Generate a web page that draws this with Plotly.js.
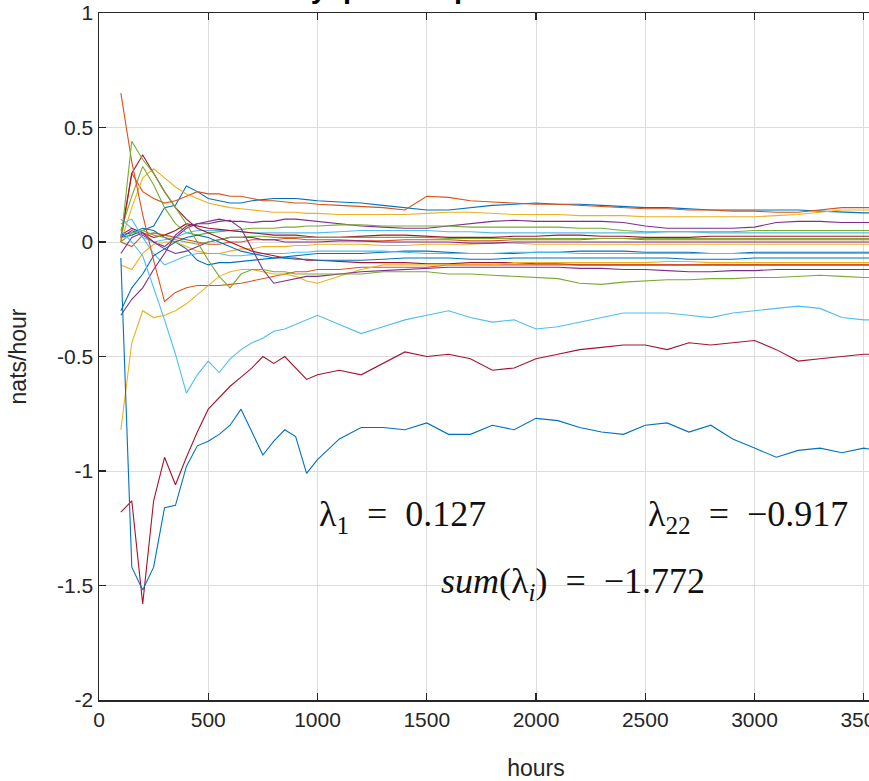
<!DOCTYPE html>
<html><head><meta charset="utf-8">
<script src="https://cdn.plot.ly/plotly-3.0.1.min.js"></script>
<style>html,body{margin:0;padding:0;overflow:hidden;background:#fff;width:869px;height:781px}#chart{width:1000px;height:781px}</style>
</head><body><div id="chart"></div>
<script>
// Time axis (hours)
const hours = [100,150,200,250,300,350,400,450,500,
  550,600,650,700,750,800,850,900,950,1000,
  1100,1200,1300,1400,1500,1600,1700,1800,1900,2000,
  2100,2200,2300,2400,2500,2600,2700,2800,2900,3000,
  3100,3200,3300,3400,3500,3600];

const lam01 = [0.02,0.03,0.05,0.07,0.15,0.16,0.245,0.22,0.19,
  0.18,0.17,0.17,0.18,0.185,0.19,0.19,0.19,0.185,0.18,
  0.175,0.17,0.16,0.15,0.14,0.14,0.15,0.16,0.165,0.17,
  0.165,0.165,0.16,0.155,0.15,0.15,0.145,0.14,0.14,0.14,
  0.14,0.14,0.135,0.13,0.127,0.127];
const lam02 = [0.0,0.3,0.22,0.19,0.17,0.18,0.2,0.22,0.21,
  0.21,0.2,0.2,0.19,0.18,0.18,0.175,0.17,0.17,0.165,
  0.16,0.155,0.15,0.14,0.2,0.195,0.18,0.175,0.17,0.165,
  0.165,0.16,0.155,0.15,0.145,0.145,0.14,0.14,0.135,0.135,
  0.13,0.13,0.14,0.15,0.15,0.15];
const lam03 = [0.0,0.15,0.28,0.32,0.28,0.24,0.21,0.19,0.17,
  0.16,0.15,0.145,0.14,0.135,0.13,0.13,0.13,0.125,0.125,
  0.12,0.12,0.12,0.12,0.125,0.13,0.13,0.125,0.12,0.12,
  0.12,0.115,0.115,0.115,0.11,0.11,0.11,0.11,0.11,0.11,
  0.115,0.12,0.13,0.14,0.14,0.14];
const lam04 = [0.02,0.05,0.03,0.0,-0.02,0.02,0.06,0.08,0.09,
  0.1,0.09,0.09,0.085,0.09,0.09,0.1,0.1,0.095,0.09,
  0.08,0.07,0.065,0.06,0.06,0.07,0.08,0.09,0.095,0.09,
  0.09,0.09,0.09,0.085,0.07,0.06,0.06,0.06,0.06,0.065,
  0.085,0.09,0.09,0.085,0.085,0.085];
const lam05 = [0.05,0.2,0.33,0.25,0.15,0.08,0.04,0.03,0.04,
  0.045,0.05,0.055,0.06,0.06,0.06,0.065,0.065,0.07,0.07,
  0.075,0.075,0.07,0.07,0.07,0.07,0.065,0.065,0.065,0.065,
  0.065,0.06,0.06,0.05,0.045,0.045,0.045,0.045,0.045,0.05,
  0.05,0.05,0.05,0.05,0.05,0.05];
const lam06 = [0.1,0.06,0.02,0.0,0.01,0.02,0.04,0.05,0.05,
  0.05,0.05,0.045,0.04,0.04,0.04,0.04,0.04,0.04,0.04,
  0.045,0.05,0.05,0.05,0.05,0.045,0.045,0.04,0.04,0.04,
  0.04,0.04,0.04,0.04,0.04,0.045,0.045,0.04,0.04,0.04,
  0.04,0.04,0.04,0.04,0.04,0.04];
const lam07 = [0.03,0.06,0.04,0.02,0.03,0.05,0.08,0.07,0.06,
  0.055,0.05,0.045,0.04,0.035,0.03,0.03,0.03,0.025,0.02,
  0.02,0.025,0.03,0.03,0.025,0.02,0.02,0.02,0.025,0.025,
  0.03,0.03,0.025,0.025,0.02,0.02,0.02,0.025,0.025,0.025,
  0.025,0.025,0.025,0.025,0.025,0.025];
const lam08 = [0.03,0.04,0.06,0.05,0.02,0.0,-0.03,-0.08,-0.1,
  -0.09,-0.09,-0.085,-0.08,-0.075,-0.07,-0.065,-0.06,-0.055,-0.05,
  -0.05,-0.05,-0.045,-0.04,-0.04,-0.045,-0.05,-0.05,-0.05,-0.045,
  -0.045,-0.04,-0.04,-0.04,-0.045,-0.045,-0.045,-0.05,-0.05,-0.045,
  -0.045,-0.045,-0.045,-0.045,-0.045,-0.045];
const lam09 = [0.0,-0.02,0.03,0.04,0.03,0.02,0.01,0.0,-0.01,
  -0.01,0.0,0.0,0.01,0.01,0.01,0.015,0.015,0.01,0.01,
  0.01,0.005,0.005,0.01,0.01,0.01,0.005,0.005,0.01,0.01,
  0.01,0.01,0.015,0.015,0.01,0.01,0.01,0.01,0.01,0.01,
  0.01,0.01,0.01,0.01,0.01,0.01];
const lam10 = [-0.1,-0.12,-0.05,-0.01,0.0,0.0,-0.02,-0.04,-0.05,
  -0.05,-0.04,-0.03,-0.03,-0.02,-0.02,-0.02,-0.015,-0.015,-0.01,
  -0.01,-0.01,-0.015,-0.015,-0.01,-0.01,-0.01,-0.005,-0.005,-0.01,
  -0.01,-0.01,-0.01,-0.01,-0.01,-0.01,-0.01,-0.01,-0.01,-0.01,
  -0.01,-0.01,-0.01,-0.01,-0.01,-0.01];
const lam11 = [-0.05,0.02,0.04,0.0,-0.03,-0.05,-0.04,-0.02,0.0,
  0.01,0.02,0.02,0.02,0.01,0.01,0.0,0.0,0.0,0.0,
  0.005,0.005,0.0,0.0,0.0,0.0,-0.005,-0.005,0.0,0.0,
  0.0,0.0,0.0,0.0,0.0,0.0,0.0,0.0,0.0,0.0,
  0.0,0.0,0.0,0.0,0.0,0.0];
const lam12 = [0.0,0.04,0.05,0.03,0.02,0.01,0.0,-0.01,0.0,
  0.01,0.02,0.02,0.025,0.025,0.02,0.02,0.02,0.02,0.02,
  0.02,0.02,0.02,0.02,0.02,0.015,0.015,0.015,0.015,0.015,
  0.015,0.015,0.015,0.015,0.015,0.015,0.015,0.015,0.015,0.015,
  0.015,0.015,0.015,0.015,0.015,0.015];
const lam13 = [0.08,0.1,0.02,-0.05,-0.1,-0.08,-0.06,-0.05,-0.05,
  -0.05,-0.06,-0.06,-0.055,-0.05,-0.05,-0.05,-0.045,-0.045,-0.04,
  -0.04,-0.04,-0.04,-0.045,-0.05,-0.05,-0.05,-0.05,-0.045,-0.045,
  -0.045,-0.05,-0.05,-0.05,-0.05,-0.05,-0.05,-0.05,-0.05,-0.05,
  -0.05,-0.05,-0.05,-0.05,-0.05,-0.05];
const lam14 = [0.02,0.3,0.38,0.3,0.22,0.15,0.1,0.06,0.04,
  0.02,0.0,-0.02,-0.04,-0.05,-0.06,-0.07,-0.07,-0.08,-0.08,
  -0.085,-0.09,-0.09,-0.09,-0.095,-0.095,-0.09,-0.09,-0.09,-0.095,
  -0.095,-0.1,-0.1,-0.1,-0.1,-0.1,-0.1,-0.1,-0.1,-0.1,
  -0.1,-0.1,-0.1,-0.1,-0.1,-0.1];
const lam15 = [-0.3,-0.2,-0.14,-0.06,-0.03,0.0,0.02,0.03,0.02,
  0.0,-0.02,-0.04,-0.05,-0.06,-0.07,-0.07,-0.075,-0.075,-0.08,
  -0.08,-0.08,-0.075,-0.07,-0.07,-0.07,-0.075,-0.075,-0.07,-0.07,
  -0.07,-0.07,-0.07,-0.07,-0.07,-0.07,-0.075,-0.075,-0.075,-0.07,
  -0.07,-0.07,-0.07,-0.07,-0.07,-0.07];
const lam16 = [0.65,0.35,0.12,-0.08,-0.26,-0.22,-0.2,-0.19,-0.19,
  -0.19,-0.185,-0.18,-0.17,-0.16,-0.15,-0.14,-0.13,-0.13,-0.12,
  -0.12,-0.11,-0.11,-0.11,-0.11,-0.1,-0.1,-0.1,-0.1,-0.1,
  -0.1,-0.1,-0.1,-0.1,-0.1,-0.1,-0.1,-0.1,-0.1,-0.1,
  -0.1,-0.1,-0.1,-0.1,-0.1,-0.1];
const lam17 = [-0.82,-0.44,-0.3,-0.33,-0.32,-0.3,-0.27,-0.23,-0.19,
  -0.15,-0.13,-0.12,-0.12,-0.13,-0.14,-0.14,-0.15,-0.17,-0.18,
  -0.15,-0.12,-0.1,-0.1,-0.1,-0.1,-0.1,-0.1,-0.09,-0.09,
  -0.09,-0.09,-0.09,-0.09,-0.09,-0.085,-0.085,-0.09,-0.09,-0.09,
  -0.09,-0.09,-0.09,-0.09,-0.09,-0.09];
const lam18 = [-0.32,-0.25,-0.2,-0.12,-0.05,0.03,0.07,0.08,0.08,
  0.09,0.095,0.06,-0.03,-0.12,-0.18,-0.17,-0.16,-0.15,-0.15,
  -0.14,-0.13,-0.125,-0.12,-0.115,-0.11,-0.11,-0.11,-0.11,-0.11,
  -0.11,-0.115,-0.115,-0.12,-0.12,-0.125,-0.13,-0.13,-0.125,-0.125,
  -0.12,-0.12,-0.12,-0.12,-0.12,-0.12];
const lam19 = [0.0,0.44,0.36,0.3,0.22,0.15,0.08,0.0,-0.08,
  -0.15,-0.2,-0.14,-0.12,-0.12,-0.13,-0.13,-0.14,-0.14,-0.14,
  -0.14,-0.14,-0.13,-0.13,-0.13,-0.14,-0.14,-0.145,-0.15,-0.155,
  -0.16,-0.18,-0.185,-0.175,-0.17,-0.165,-0.165,-0.16,-0.16,-0.155,
  -0.155,-0.15,-0.145,-0.15,-0.155,-0.155];
const lam20 = [0.05,0.0,-0.06,-0.2,-0.34,-0.49,-0.66,-0.58,-0.52,
  -0.57,-0.51,-0.47,-0.44,-0.42,-0.39,-0.38,-0.36,-0.34,-0.32,
  -0.36,-0.40,-0.37,-0.34,-0.32,-0.30,-0.33,-0.35,-0.34,-0.38,
  -0.37,-0.35,-0.33,-0.31,-0.31,-0.31,-0.32,-0.33,-0.31,-0.30,
  -0.29,-0.28,-0.29,-0.33,-0.34,-0.34];
const lam21 = [-1.18,-1.13,-1.58,-1.13,-0.94,-1.06,-0.94,-0.83,-0.73,
  -0.68,-0.63,-0.59,-0.55,-0.50,-0.53,-0.50,-0.55,-0.60,-0.58,
  -0.56,-0.58,-0.53,-0.48,-0.50,-0.49,-0.51,-0.56,-0.55,-0.51,
  -0.49,-0.47,-0.46,-0.45,-0.45,-0.47,-0.44,-0.45,-0.44,-0.43,
  -0.47,-0.52,-0.51,-0.50,-0.49,-0.49];
const lam22 = [-0.07,-1.42,-1.52,-1.42,-1.16,-1.15,-0.98,-0.89,-0.87,
  -0.84,-0.80,-0.73,-0.83,-0.93,-0.87,-0.82,-0.85,-1.01,-0.95,
  -0.86,-0.81,-0.81,-0.82,-0.79,-0.84,-0.84,-0.80,-0.82,-0.77,
  -0.78,-0.81,-0.83,-0.84,-0.80,-0.79,-0.83,-0.80,-0.86,-0.90,
  -0.94,-0.91,-0.90,-0.92,-0.90,-0.917];

const xTickVals = [0,500,1000,1500,2000,2500,3000,3500,4000];
const xTickLabels = ['0','500','1000','1500','2000','2500','3000','3500','4000'];
const yTickVals = [-2,-1.5,-1,-0.5,0,0.5,1];
const yTickLabels = ['-2','-1.5','-1','-0.5','0','0.5','1'];

const seriesList = [lam01,lam02,lam03,lam04,lam05,lam06,lam07,lam08,lam09,lam10,lam11,
  lam12,lam13,lam14,lam15,lam16,lam17,lam18,lam19,lam20,lam21,lam22];
const colorOrder = ['#0072BD','#D95319','#EDB120','#7E2F8E','#77AC30','#4DBEEE','#A2142F'];

const traces = seriesList.map((ys, i) => ({
  type: 'scatter', mode: 'lines', x: hours, y: ys,
  line: {color: colorOrder[i % 7], width: 1.1},
  hoverinfo: 'skip', name: 'λ' + (i + 1)
}));

const axisCommon = {
  ticks: 'inside', ticklen: 7, tickwidth: 1.3, tickcolor: '#262626',
  showline: true, mirror: 'ticks', linecolor: '#262626', linewidth: 1.5,
  showgrid: true, gridcolor: '#dcdcdc', gridwidth: 1, zeroline: false,
  tickfont: {size: 21, color: '#262626', family: 'Liberation Sans, Arial, sans-serif'},
  tickmode: 'array'
};

const serifFont = {family: 'Liberation Serif, Times New Roman, serif', size: 36, color: '#111'};
const layout = {
  width: 1000, height: 781,
  margin: {l: 99, r: 27, t: 13, b: 81, pad: 0},
  paper_bgcolor: '#ffffff', plot_bgcolor: '#ffffff',
  showlegend: false,
  font: {family: 'Liberation Sans, Arial, sans-serif', color: '#262626'},
  xaxis: Object.assign({}, axisCommon, {
    range: [0, 4000], tickvals: xTickVals, ticktext: xTickLabels,
    title: {text: 'hours', font: {size: 23, color: '#262626'}, standoff: 30}
  }),
  yaxis: Object.assign({}, axisCommon, {
    range: [-2, 1], tickvals: yTickVals, ticktext: yTickLabels,
    title: {text: 'nats/hour', font: {size: 23, color: '#262626'}, standoff: 24}
  }),
  annotations: [
    {xref: 'paper', yref: 'paper', x: 0.2208, y: 1.0102, xanchor: 'left', yanchor: 'bottom',
     text: '<b>Lyapunov spectrum</b>', showarrow: false,
     font: {family: 'Liberation Sans, Arial, sans-serif', size: 29, color: '#000'}},
    {xref: 'x', yref: 'y', x: 1391, y: -1.2, xanchor: 'center', yanchor: 'middle', showarrow: false,
     text: 'λ<sub>1</sub>\u2002=\u20020.127', font: serifFont},
    {xref: 'x', yref: 'y', x: 2970, y: -1.2, xanchor: 'center', yanchor: 'middle', showarrow: false,
     text: 'λ<sub>22</sub>\u2002=\u2002\u22120.917', font: serifFont},
    {xref: 'x', yref: 'y', x: 2169, y: -1.49, xanchor: 'center', yanchor: 'middle', showarrow: false,
     text: '<i>sum</i>(λ<sub><i>i</i></sub>)\u2002=\u2002\u22121.772', font: serifFont}
  ]
};

Plotly.newPlot('chart', traces, layout, {displayModeBar: false, staticPlot: true});
</script>
</body></html>
